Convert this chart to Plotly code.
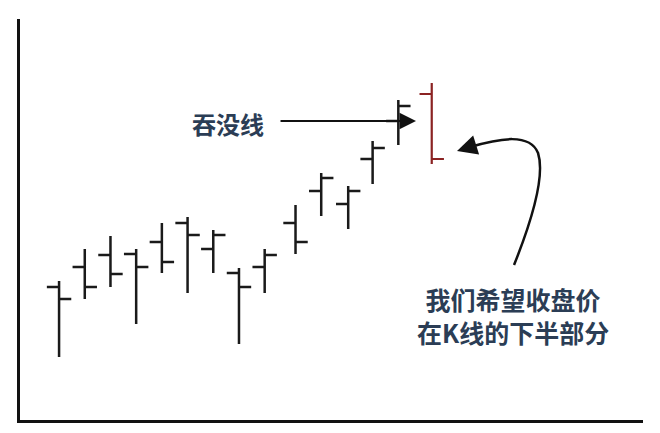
import plotly.graph_objects as go

# K线数据
bar_x = [0, 1, 2, 3, 4, 5, 6, 7, 8, 9.2, 10.2, 11.25, 12.2, 13.2]
bar_open = [13.3, 15.3, 16.5, 16.6, 17.8, 19.7, 17.1, 14.7, 15.3, 19.7, 22.9, 21.6, 26.1, 29.9]
bar_high = [13.9, 17.1, 18.4, 17.1, 19.7, 20.3, 19.0, 15.2, 17.1, 21.5, 24.7, 23.4, 27.9, 32.0]
bar_low = [6.3, 12.1, 13.3, 9.6, 14.7, 12.7, 14.7, 7.6, 12.7, 16.6, 20.4, 19.1, 23.6, 27.5]
bar_close = [12.1, 13.3, 14.6, 15.3, 15.8, 18.5, 18.5, 13.3, 16.5, 17.8, 24.2, 22.9, 27.2, 31.4]

# 吞没线
engulf_x = [14.5]
engulf_open = [32.6]
engulf_high = [33.7]
engulf_low = [25.6]
engulf_close = [26.1]

X0, X1 = -1.52, 22.72
Y0, Y1 = 0, 40.1

# 像素 -> 数据坐标，用来放注释
def px_x(px):
    return X0 + (px - 20) / 25.7

def px_y(py):
    return (420 - py) / 10

fig = go.Figure()
fig.add_trace(go.Ohlc(x=bar_x, open=bar_open, high=bar_high, low=bar_low, close=bar_close,
                      tickwidth=0.5,
                      increasing=dict(line=dict(color="#1a1a1a", width=2.5)),
                      decreasing=dict(line=dict(color="#1a1a1a", width=2.5)),
                      hoverinfo="skip"))
fig.add_trace(go.Ohlc(x=engulf_x, open=engulf_open, high=engulf_high, low=engulf_low, close=engulf_close,
                      tickwidth=0.5,
                      increasing=dict(line=dict(color="#8b2323", width=2.2)),
                      decreasing=dict(line=dict(color="#8b2323", width=2.2)),
                      hoverinfo="skip"))

# 弯曲箭头
pts = [(514, 265), (528, 230), (546, 178), (538, 153), (530, 133), (500, 138), (470, 147)]
p = [f"{px_x(a):.3f},{px_y(b):.3f}" for a, b in pts]
path = f"M {p[0]} C {p[1]} {p[2]} {p[3]} C {p[4]} {p[5]} {p[6]}"
fig.add_shape(type="path", path=path, xref="x", yref="y",
              line=dict(color="#111111", width=2.5))

text_color = "#2b3d55"
fig.add_annotation(x=px_x(457), y=px_y(151), ax=16, ay=-5, axref="pixel", ayref="pixel",
                   text="", showarrow=True, arrowhead=2, arrowsize=1.6, arrowwidth=2.5,
                   arrowcolor="#111111")
fig.add_annotation(x=px_x(416), y=px_y(121), ax=-137, ay=0,
                   text="", showarrow=True, arrowhead=2, arrowsize=1.5, arrowwidth=2.2,
                   arrowcolor="#111111")
fig.add_annotation(x=px_x(228), y=px_y(123), text="<b>吞没线</b>", showarrow=False,
                   font=dict(family="Noto Sans CJK SC", size=24, color=text_color))
fig.add_annotation(x=px_x(513), y=px_y(315), text="<b>我们希望收盘价<br>在K线的下半部分</b>",
                   showarrow=False, align="center",
                   font=dict(family="Noto Sans CJK SC", size=25, color=text_color))

# 页面 body 自带 8px 边距，这里扣掉
fig.update_layout(
    width=652, height=425,
    margin=dict(l=12, r=17, t=11, b=13),
    paper_bgcolor="white", plot_bgcolor="white",
    showlegend=False,
    xaxis=dict(range=[X0, X1], showgrid=False, zeroline=False, showticklabels=False, ticks="",
               showline=True, linecolor="#111111", linewidth=2.5, rangeslider=dict(visible=False)),
    yaxis=dict(range=[Y0, Y1], showgrid=False, zeroline=False, showticklabels=False, ticks="",
               showline=True, linecolor="#111111", linewidth=2.5),
)

fig.write_html("out.html")
